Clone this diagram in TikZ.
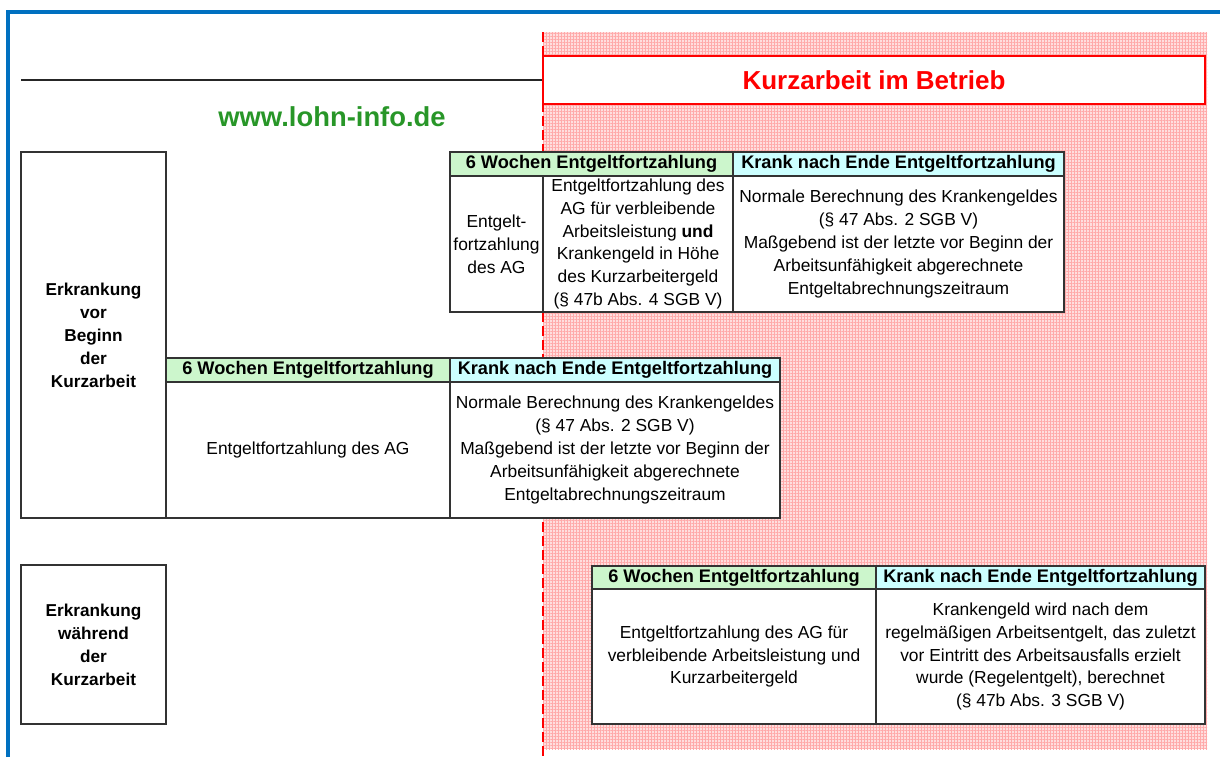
\documentclass[tikz,border=0pt]{standalone}
\usepackage{fontspec}
\setmainfont{Liberation Sans}
\usetikzlibrary{positioning,patterns.meta}
\definecolor{headgreen}{RGB}{204,246,204}
\definecolor{headcyan}{RGB}{204,255,255}
\definecolor{hatchpink}{RGB}{255,222,222}
\definecolor{hatchline}{RGB}{255,170,170}
\definecolor{frameblue}{RGB}{0,112,192}
\definecolor{urlgreen}{RGB}{40,150,40}
\tikzset{
  cell/.style={rectangle, draw=black!80, line width=0.6pt, fill=white, inner sep=1pt, outer sep=0pt, align=center, font=\fontsize{8.7}{11.4}\selectfont},
  head/.style={cell, font=\fontsize{9.1}{11}\selectfont\bfseries, minimum height=12pt},
}

\begin{document}
\begin{tikzpicture}[x=0.5pt, y=-0.5pt,
    greenhead/.style={head, fill=headgreen},
    cyanhead/.style={head, fill=headcyan},
    sidebox/.style={cell, font=\fontsize{8.6}{11.5}\selectfont\bfseries, minimum width=72.5pt, anchor=north west},
    titlebox/.style={rectangle, draw=red, line width=1pt, fill=white, text=red, minimum width=331pt, minimum height=24pt, font=\fontsize{13}{15}\selectfont\bfseries},
    url/.style={text=urlgreen, font=\fontsize{13.7}{15}\selectfont\bfseries}]
    \useasboundingbox (0,0) rectangle (1220,757);
    % Kurzarbeit area
    \fill[hatchpink] (543,32) rectangle (1207,749);
    \fill[pattern={Lines[angle=90, distance=1.5pt, line width=0.5pt]}, pattern color=hatchline] (543,32) rectangle (1207,749);
    \fill[pattern={Lines[angle=0, distance=1.5pt, line width=0.5pt]}, pattern color=hatchline] (543,32) rectangle (1207,749);
    \draw[red, line width=1pt, dash pattern=on 5pt off 2pt] (543,32) -- (543,757);
    \draw[frameblue, line width=2pt] (8,757) -- (8,12) -- (1220,12);

    \node[titlebox] (title) at (874,80) {Kurzarbeit im Betrieb};
    \coordinate (rulestart) at (21,80);
    \draw[line width=1.2pt, black!85] (rulestart) -- (title.west);
    \node[url] (url) at (332,117) {www.lohn-info.de};

    \node[sidebox, minimum height=183pt] (vor) at (21,152) {Erkrankung\\vor\\Beginn\\der\\Kurzarbeit};
    \node[sidebox, minimum height=79.5pt] (waehrend) at (21,565) {Erkrankung\\während\\der\\Kurzarbeit};

    % vor Beginn, Ende in der Kurzarbeit
    \node[greenhead, minimum width=141.5pt, anchor=north west] (aG) at (450,152) {6 Wochen Entgeltfortzahlung};
    \node[cyanhead, minimum width=165.5pt, right=0pt of aG] (aC) {Krank nach Ende Entgeltfortzahlung};
    \node[cell, minimum width=46.5pt, minimum height=68pt, below right=0pt of aG.south west] (a1) {Entgelt-\\fortzahlung\\des AG};
    \node[cell, minimum width=95pt, minimum height=68pt, right=0pt of a1] (a2) {Entgeltfortzahlung des\\AG für verbleibende\\Arbeitsleistung \textbf{und}\\Krankengeld in Höhe\\des Kurzarbeitergeld\\(§ 47b Abs. 4 SGB V)};
    \node[cell, minimum width=165.5pt, minimum height=68pt, right=0pt of a2] (a3) {Normale Berechnung des Krankengeldes\\(§ 47 Abs. 2 SGB V)\\Maßgebend ist der letzte vor Beginn der\\Arbeitsunfähigkeit abgerechnete\\Entgeltabrechnungszeitraum};

    % vor Beginn
    \node[greenhead, minimum width=142pt, anchor=north west] (bG) at (166,358) {6 Wochen Entgeltfortzahlung};
    \node[cyanhead, minimum width=165pt, right=0pt of bG] (bC) {Krank nach Ende Entgeltfortzahlung};
    \node[cell, minimum width=142pt, minimum height=68pt, below=0pt of bG] (b1) {Entgeltfortzahlung des AG};
    \node[cell, minimum width=165pt, minimum height=68pt, below=0pt of bC] (b2) {Normale Berechnung des Krankengeldes\\(§ 47 Abs. 2 SGB V)\\Maßgebend ist der letzte vor Beginn der\\Arbeitsunfähigkeit abgerechnete\\Entgeltabrechnungszeitraum};

    % waehrend
    \node[greenhead, minimum width=142pt, minimum height=11.5pt, anchor=north west] (cG) at (592,566) {6 Wochen Entgeltfortzahlung};
    \node[cyanhead, minimum width=164.5pt, minimum height=11.5pt, right=0pt of cG] (cC) {Krank nach Ende Entgeltfortzahlung};
    \node[cell, minimum width=142pt, minimum height=67.5pt, below=0pt of cG] (c1) {Entgeltfortzahlung des AG für\\verbleibende Arbeitsleistung und\\Kurzarbeitergeld};
    \node[cell, minimum width=164.5pt, minimum height=67.5pt, below=0pt of cC] (c2) {Krankengeld wird nach dem\\regelmäßigen Arbeitsentgelt, das zuletzt\\vor Eintritt des Arbeitsausfalls erzielt\\wurde (Regelentgelt), berechnet\\(§ 47b Abs. 3 SGB V)};
\end{tikzpicture}
\end{document}
